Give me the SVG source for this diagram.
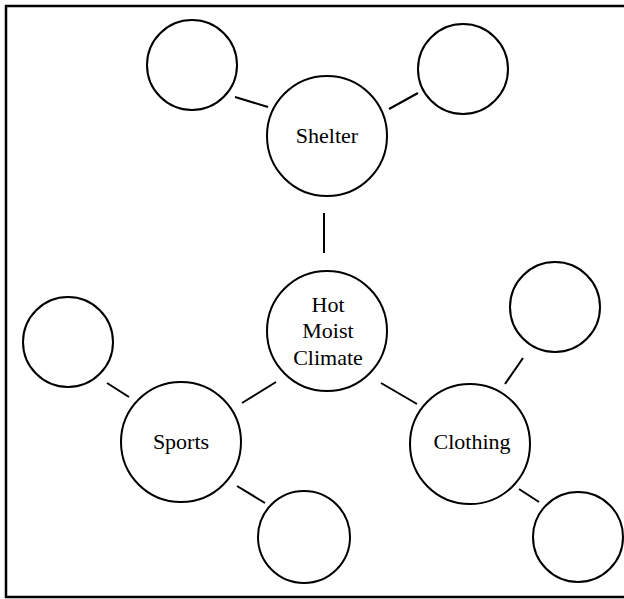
<svg xmlns="http://www.w3.org/2000/svg" width="624" height="599" viewBox="0 0 624 599">
<style>
.n{fill:#fff;stroke:#000;stroke-width:2}
.c{stroke:#000;stroke-width:2;fill:none}
.t{font-family:"Liberation Serif","Times New Roman",serif;font-size:22px;fill:#000;text-anchor:middle}
</style>
<rect width="624" height="599" fill="#fff"/>
<path d="M624 6 H6 V597 H624" fill="none" stroke="#000" stroke-width="2.5"/>
<g id="connectors">
<line class="c" x1="235" y1="97" x2="268" y2="107"/>
<line class="c" x1="389" y1="109" x2="418" y2="93"/>
<line class="c" x1="324" y1="213" x2="324" y2="253"/>
<line class="c" x1="107" y1="383" x2="129" y2="397"/>
<line class="c" x1="242" y1="403" x2="276" y2="382"/>
<line class="c" x1="237" y1="486" x2="265" y2="503"/>
<line class="c" x1="381" y1="383" x2="417" y2="404"/>
<line class="c" x1="505" y1="384" x2="523" y2="358"/>
<line class="c" x1="519" y1="489" x2="539" y2="502"/>
</g>
<g id="tl"><circle class="n" cx="192" cy="65" r="45"/></g>
<g id="tr"><circle class="n" cx="463" cy="69" r="45"/></g>
<g id="shelter"><circle class="n" cx="327" cy="136" r="60"/><text class="t" x="327" y="143">Shelter</text></g>
<g id="hot"><circle class="n" cx="327" cy="331" r="60"/><text class="t" x="328" y="312">Hot</text><text class="t" x="328" y="338">Moist</text><text class="t" x="328" y="365">Climate</text></g>
<g id="l"><circle class="n" cx="68" cy="342" r="45"/></g>
<g id="sports"><circle class="n" cx="181" cy="442" r="60"/><text class="t" x="181" y="449">Sports</text></g>
<g id="r"><circle class="n" cx="555" cy="307" r="45"/></g>
<g id="clothing"><circle class="n" cx="470" cy="444" r="60"/><text class="t" x="472" y="449">Clothing</text></g>
<g id="b"><circle class="n" cx="304" cy="537" r="46"/></g>
<g id="br"><circle class="n" cx="578" cy="537" r="45"/></g>
</svg>
